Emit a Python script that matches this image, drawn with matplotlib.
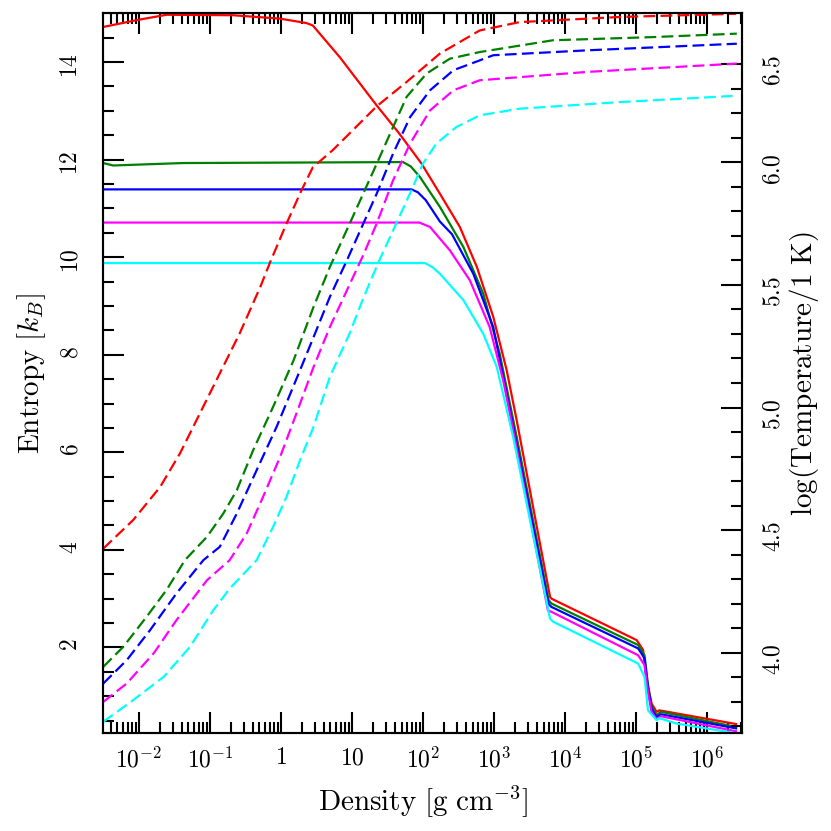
import numpy as np
import matplotlib
matplotlib.use('Agg')
import matplotlib.pyplot as plt
from matplotlib.ticker import FixedLocator, FuncFormatter, LogLocator, NullFormatter

plt.rcParams['mathtext.fontset'] = 'cm'
plt.rcParams['font.family'] = 'serif'
plt.rcParams['font.serif'] = ['cmr10', 'DejaVu Serif']
plt.rcParams['lines.scale_dashes'] = False

# entropy curves (solid, left axis): log10(density), S [k_B]
lrho_s_red = [-2.50, -2.03, -1.61, -0.67, -0.01, 0.36, 0.45, 0.83, 1.35, 1.67, 1.98, 2.24, 2.52,
              2.76, 2.99, 3.18, 3.32, 3.79, 3.81, 5.01, 5.10, 5.15, 5.22, 5.29, 5.33, 6.37, 6.41]
s_red = [14.72, 14.86, 14.97, 14.96, 14.89, 14.80, 14.75, 14.10, 13.11, 12.53, 11.92, 11.30, 10.62,
         9.80, 8.78, 7.68, 6.66, 3.04, 3.00, 2.15, 1.95, 1.33, 0.85, 0.68, 0.71, 0.44, 0.43]

lrho_s_green = [-2.50, -2.36, -1.38, 1.72, 1.83, 1.96, 2.24, 2.57, 2.85, 3.08, 3.32, 3.77, 3.81,
                5.03, 5.12, 5.17, 5.22, 5.29, 5.35, 6.41]
s_green = [11.93, 11.88, 11.93, 11.95, 11.86, 11.64, 11.03, 10.21, 9.25, 8.03, 6.32, 2.97, 2.90,
           2.05, 1.84, 1.23, 0.80, 0.61, 0.68, 0.37]

lrho_s_blue = [-2.50, 1.84, 1.93, 2.04, 2.24, 2.41, 2.71, 2.99, 3.30, 3.77, 3.81,
               5.03, 5.12, 5.17, 5.22, 5.29, 5.35, 6.41]
s_blue = [11.39, 11.39, 11.33, 11.17, 10.73, 10.47, 9.66, 8.57, 6.32, 2.89, 2.83,
          1.98, 1.78, 1.16, 0.75, 0.57, 0.63, 0.34]

lrho_s_magenta = [-2.50, 1.95, 2.10, 2.38, 2.66, 2.94, 3.13, 3.29, 3.76, 3.81,
                  5.03, 5.12, 5.17, 5.22, 5.29, 5.35, 6.41]
s_magenta = [10.71, 10.71, 10.62, 10.14, 9.53, 8.57, 7.48, 6.32, 2.76, 2.73,
             1.84, 1.64, 1.08, 0.67, 0.53, 0.59, 0.28]

lrho_s_cyan = [-2.50, 2.03, 2.13, 2.24, 2.57, 2.85, 3.04, 3.27, 3.79, 3.83,
               5.03, 5.12, 5.17, 5.29, 5.33, 5.57, 6.37]
s_cyan = [9.88, 9.88, 9.80, 9.66, 9.12, 8.43, 7.75, 6.32, 2.59, 2.53,
          1.67, 1.40, 0.71, 0.51, 0.55, 0.44, 0.25]

# temperature curves (dashed, right axis): log10(density), log T
lrho_t_red = [-2.50, -2.08, -1.70, -1.42, -1.14, -0.86, -0.58, -0.29, -0.15, 0.08, 0.29, 0.45,
              0.73, 0.97, 1.35, 1.77, 2.24, 2.80, 3.36, 4.77, 6.41]
t_red = [4.425, 4.541, 4.676, 4.813, 4.976, 5.139, 5.302, 5.491, 5.593, 5.750, 5.885, 5.979,
         6.049, 6.118, 6.228, 6.327, 6.443, 6.537, 6.571, 6.592, 6.605]

lrho_t_green = [-2.50, -2.22, -1.89, -1.61, -1.35, -1.04, -0.81, -0.62, -0.39, -0.11, 0.18, 0.46,
                0.69, 0.97, 1.35, 1.58, 1.77, 2.05, 2.38, 2.80, 3.83, 5.24, 6.42]
t_green = [3.943, 4.024, 4.147, 4.256, 4.378, 4.473, 4.568, 4.663, 4.826, 5.002, 5.193, 5.410,
           5.573, 5.750, 5.994, 6.143, 6.266, 6.361, 6.422, 6.449, 6.497, 6.510, 6.524]

lrho_t_blue = [-2.50, -2.17, -1.84, -1.47, -1.09, -0.86, -0.62, -0.34, -0.06, 0.27, 0.50, 0.69,
               0.93, 1.35, 1.58, 1.82, 2.10, 2.43, 2.80, 2.99, 4.31, 6.42]
t_blue = [3.875, 3.970, 4.093, 4.242, 4.378, 4.432, 4.568, 4.745, 4.921, 5.152, 5.315, 5.451,
          5.600, 5.872, 6.035, 6.184, 6.293, 6.375, 6.415, 6.436, 6.456, 6.483]

lrho_t_magenta = [-2.50, -2.17, -1.79, -1.47, -1.04, -0.72, -0.48, -0.25, -0.01, 0.22, 0.46,
                  0.69, 1.16, 1.35, 1.58, 1.82, 2.10, 2.43, 2.80, 4.31, 6.42]
t_magenta = [3.800, 3.875, 3.998, 4.133, 4.296, 4.378, 4.487, 4.636, 4.799, 4.976, 5.165,
             5.328, 5.621, 5.750, 5.926, 6.076, 6.211, 6.293, 6.334, 6.368, 6.402]

lrho_t_cyan = [-2.50, -2.08, -1.65, -1.28, -0.95, -0.72, -0.34, -0.11, 0.08, 0.27, 0.46, 0.69,
               0.97, 1.16, 1.37, 1.58, 1.86, 2.00, 2.19, 2.47, 2.80, 3.36, 4.77, 6.36]
t_cyan = [3.719, 3.807, 3.902, 4.024, 4.174, 4.262, 4.378, 4.513, 4.636, 4.785, 4.921, 5.125,
          5.303, 5.445, 5.589, 5.722, 5.899, 5.994, 6.076, 6.143, 6.191, 6.218, 6.245, 6.270]

colors = ['red', 'green', 'blue', 'magenta', 'cyan']
solid = [(lrho_s_red, s_red), (lrho_s_green, s_green), (lrho_s_blue, s_blue),
         (lrho_s_magenta, s_magenta), (lrho_s_cyan, s_cyan)]
dashed = [(lrho_t_red, t_red), (lrho_t_green, t_green), (lrho_t_blue, t_blue),
          (lrho_t_magenta, t_magenta), (lrho_t_cyan, t_cyan)]

x_ticks = [1e-2, 1e-1, 1, 10, 1e2, 1e3, 1e4, 1e5, 1e6]
right_ticks = [4.0, 4.5, 5.0, 5.5, 6.0, 6.4]
right_labels = ['4.0', '4.5', '5.0', '5.5', '6.0', '6.5']

fig = plt.figure(figsize=(8.31, 8.31), dpi=100)
ax = fig.add_axes([0.1243, 0.1176, 0.7692, 0.8664])
ax2 = ax.twinx()

for (lr, s), c in zip(solid, colors):
    ax.plot(10.0 ** np.array(lr), s, color=c, lw=1.6)
for (lr, t), c in zip(dashed, colors):
    ax2.plot(10.0 ** np.array(lr), t, color=c, lw=1.6, ls='--', dashes=(8.5, 3.8))

ax.set_xscale('log')
ax.set_xlim(10 ** -2.5, 10 ** 6.5)
ax.set_ylim(0.24, 15.0)
ax2.set_ylim(3.672, 6.607)


def fmt_rho(v, pos):
    k = int(round(np.log10(v)))
    if k == 0:
        return r'$1$'
    if k == 1:
        return r'$10$'
    return r'$10^{%d}$' % k


ax.xaxis.set_major_locator(FixedLocator(x_ticks))
ax.xaxis.set_minor_locator(LogLocator(base=10, subs=np.arange(2, 10), numticks=200))
ax.xaxis.set_major_formatter(FuncFormatter(fmt_rho))
ax.xaxis.set_minor_formatter(NullFormatter())

ax.yaxis.set_major_locator(FixedLocator(np.arange(2, 15, 2)))
ax.yaxis.set_minor_locator(FixedLocator(np.arange(0.5, 15.0, 0.5)))
ax.yaxis.set_major_formatter(FuncFormatter(lambda v, p: r'$%d$' % v))

ax2.yaxis.set_major_locator(FixedLocator(right_ticks))
ax2.set_yticklabels([r'$%s$' % s for s in right_labels])
ax2.yaxis.set_minor_locator(FixedLocator(np.round(np.arange(3.7, 6.35, 0.1), 2)))

ax.tick_params(which='both', direction='in', top=True, right=False, width=1.5, labelsize=17)
ax.tick_params(which='major', length=15)
ax.tick_params(which='minor', length=8)
ax.tick_params(axis='x', which='major', pad=10)
ax.tick_params(axis='y', which='major', pad=15, labelrotation=90)
ax2.tick_params(which='both', direction='in', left=False, right=True, width=1.5, labelsize=17)
ax2.tick_params(which='major', length=15, pad=14, labelrotation=90)
ax2.tick_params(which='minor', length=8)

for a in (ax, ax2):
    for sp in a.spines.values():
        sp.set_linewidth(1.5)

ax.set_xlabel(r'$\mathrm{Density\ [g\ cm^{-3}]}$', fontsize=21, labelpad=8)
ax.set_ylabel(r'$\mathrm{Entropy\ }[k_B]$', fontsize=21, labelpad=9)
ax2.set_ylabel(r'$\mathrm{log(Temperature/1\ K)}$', fontsize=21, labelpad=2)

fig.savefig('out.png', dpi=100)
